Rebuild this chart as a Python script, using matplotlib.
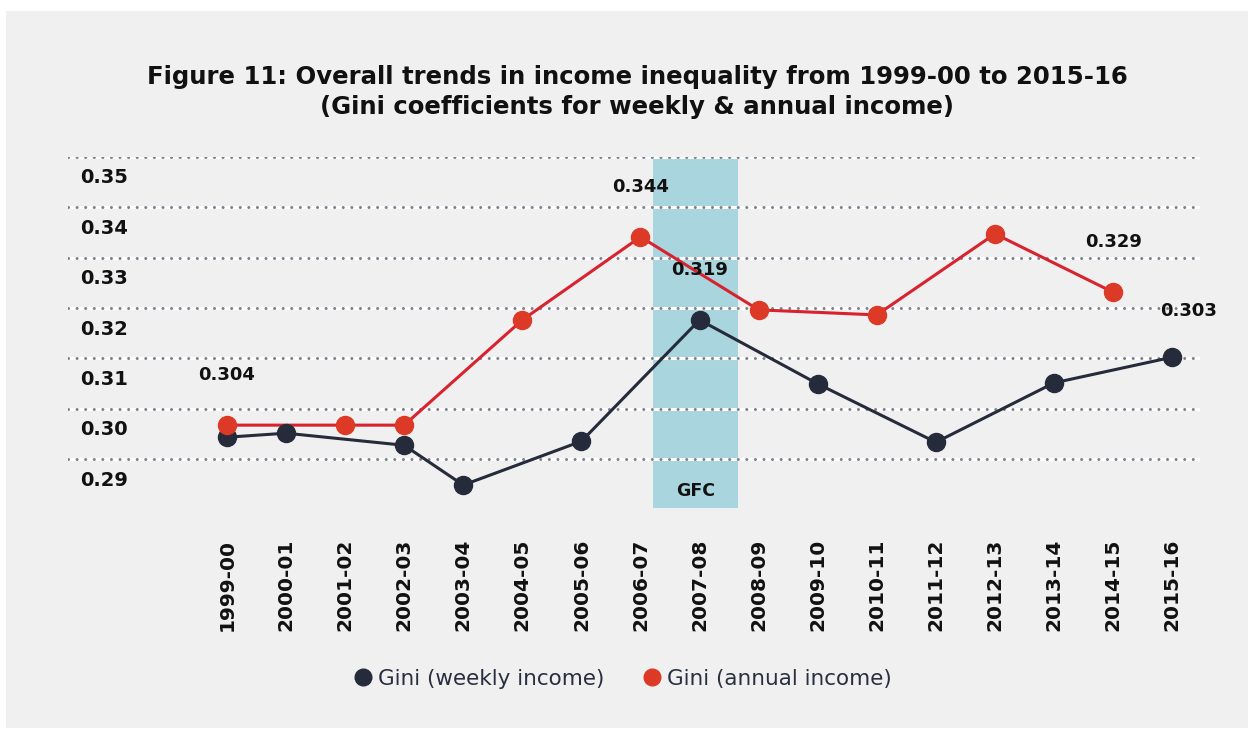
import matplotlib.pyplot as plt
import matplotlib.patches as mpatches
import matplotlib.transforms as mtransforms

# Data
years = ["1999-00", "2000-01", "2001-02", "2002-03", "2003-04", "2004-05",
         "2005-06", "2006-07", "2007-08", "2008-09", "2009-10", "2010-11",
         "2011-12", "2012-13", "2013-14", "2014-15", "2015-16"]

weekly_years = ["1999-00", "2000-01", "2002-03", "2003-04", "2005-06",
                "2007-08", "2009-10", "2011-12", "2013-14", "2015-16"]
weekly_gini = [0.2985, 0.2993, 0.2969, 0.2890, 0.2977,
               0.3218, 0.3091, 0.2975, 0.3093, 0.3144]

annual_years = ["1999-00", "2001-02", "2002-03", "2004-05", "2006-07",
                "2008-09", "2010-11", "2012-13", "2014-15"]
annual_gini = [0.3009, 0.3009, 0.3009, 0.3218, 0.3383,
               0.3238, 0.3228, 0.3389, 0.3273]

# labels as printed on the original chart
value_labels = [("annual", "1999-00", "0.304"), ("annual", "2006-07", "0.344"),
                ("weekly", "2007-08", "0.319"), ("annual", "2014-15", "0.329"),
                ("weekly", "2015-16", "0.303")]

yticks = [0.29, 0.30, 0.31, 0.32, 0.33, 0.34, 0.35]

navy = "#262b3b"
red = "#dc3a26"
red_line = "#d8232f"

fig = plt.figure(figsize=(12.55, 7.31), dpi=100, facecolor="white")
fig.patches.append(mpatches.Rectangle((6 / 1255, 1 - 728 / 731), 1242 / 1255, 717 / 731,
                                      transform=fig.transFigure, facecolor="#f0f0f0",
                                      edgecolor="none", zorder=-10))

ax = fig.add_axes([68 / 1255, 1 - 508 / 731, 1132 / 1255, 351 / 731])
ax.set_facecolor("none")
ax.set_xlim(-2.69, 16.47)
ax.set_ylim(0.28444, 0.35417)

# GFC band
ax.axvspan(7.22, 8.65, color="#a9d5de", zorder=1, lw=0)
ax.text(7.93, 0.2878, "GFC", ha="center", va="center", fontsize=12.5,
        fontweight="bold", color="#111111", zorder=5)

# dotted gridlines sit a little above each tick label
for t in yticks:
    g = t + 0.00417
    ax.axhline(g, color="white", lw=2.2, zorder=2)
    ax.axhline(g, color="#7d818d", lw=2.2, linestyle=(0, (0.01, 2.8)),
               dash_capstyle="round", zorder=2.5)

xi = {y: i for i, y in enumerate(years)}
wx = [xi[y] for y in weekly_years]
axx = [xi[y] for y in annual_years]

ax.plot(wx, weekly_gini, color=navy, lw=2.2, zorder=3)
ax.plot(wx, weekly_gini, "o", color=navy, ms=13, zorder=4)
ax.plot(axx, annual_gini, color=red_line, lw=2.2, zorder=3)
ax.plot(axx, annual_gini, "o", color=red, ms=13, zorder=4)

series = {"weekly": dict(zip(weekly_years, weekly_gini)),
          "annual": dict(zip(annual_years, annual_gini))}
for s, yr, txt in value_labels:
    dx, dy = (12, 33) if yr == "2015-16" else (0, 36)
    ax.annotate(txt, (xi[yr], series[s][yr]), xytext=(dx, dy), textcoords="offset points",
                ha="center", va="center", fontsize=13, fontweight="bold",
                color="#111111", zorder=5)

# y labels drawn inside the plot area
trans = mtransforms.blended_transform_factory(ax.transAxes, ax.transData)
for t in yticks:
    ax.text(0.0106, t, f"{t:.2f}", transform=trans, ha="left", va="center",
            fontsize=14, fontweight="bold", color="#111111")
ax.set_yticks([])

ax.set_xticks(range(len(years)))
ax.set_xticklabels(years, rotation=90, fontsize=14.5, fontweight="bold", color="#111111")
ax.tick_params(axis="x", length=0, pad=22)
for sp in ax.spines.values():
    sp.set_visible(False)

fig.text(637 / 1255, 1 - 92 / 731,
         "Figure 11: Overall trends in income inequality from 1999-00 to 2015-16\n"
         "(Gini coefficients for weekly & annual income)",
         ha="center", va="center", fontsize=17.6, fontweight="bold",
         color="#111111", linespacing=1.3)

h1, = ax.plot([], [], "o", color=navy, ms=12)
h2, = ax.plot([], [], "o", color=red, ms=12)
fig.legend([h1, h2], ["Gini (weekly income)", "Gini (annual income)"],
           loc="center", bbox_to_anchor=(622 / 1255, 1 - 679 / 731), ncol=2,
           frameon=False, fontsize=15.5, labelcolor="#2a2f40",
           handletextpad=0.2, columnspacing=1.75, handlelength=1.0)

plt.savefig("out.png", dpi=100, facecolor="white")
